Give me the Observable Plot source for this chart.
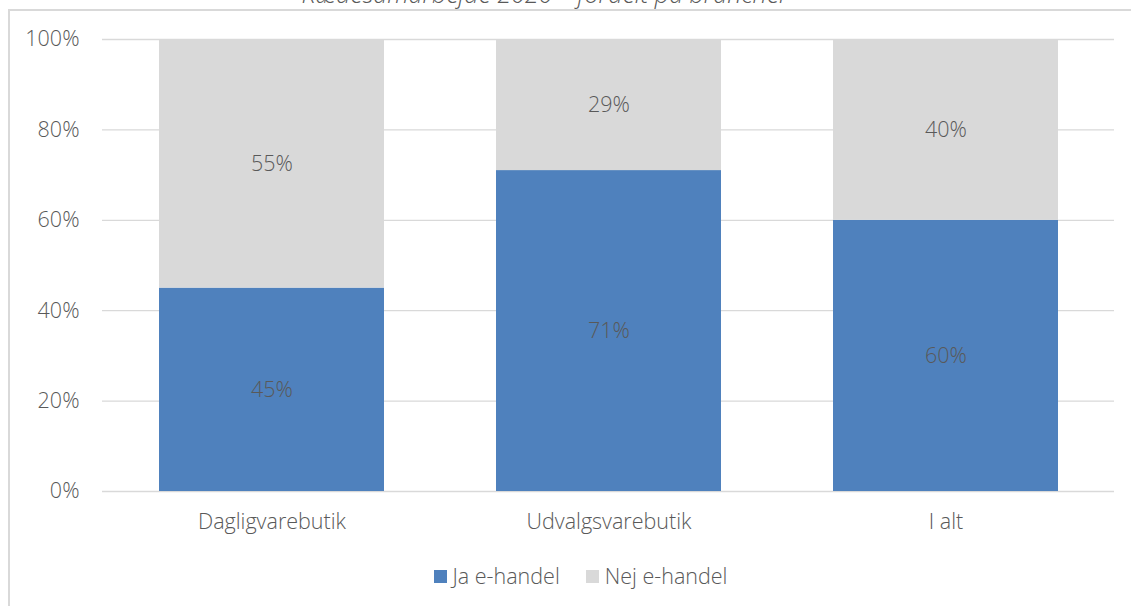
<!DOCTYPE html>
<html>
<head>
<meta charset="utf-8">
<script src="https://cdn.jsdelivr.net/npm/d3@7"></script>
<script src="https://cdn.jsdelivr.net/npm/@observablehq/plot@0.6"></script>
<style>
  html, body { margin: 0; padding: 0; background: #fff; }
  #wrap { position: relative; width: 1131px; height: 606px; overflow: hidden; font-family: "Open Sans", Lato, sans-serif; font-weight: 300; color: #595959; }
  #frame { position: absolute; left: 8px; top: 9px; width: 1200px; height: 700px; border-top: 2px solid #D9D9D9; border-left: 2px solid #D9D9D9; box-sizing: border-box; }
  #title { position: absolute; left: 0; width: 1090px; text-align: center; top: -22px; font-size: 25px; line-height: 30px; font-style: italic; font-weight: 300; color: #595959; white-space: nowrap; }
  #chart { position: absolute; left: 0; top: 0; }
  #legend { position: absolute; top: 561px; left: 0; width: 1131px; display: flex; justify-content: center; gap: 26px; font-size: 21.5px; line-height: 30px; padding-left: 30px; box-sizing: border-box; }
  .item { display: flex; align-items: center; gap: 6px; }
  .sw { width: 13px; height: 13px; display: inline-block; }
</style>
</head>
<body>
<div id="wrap">
  <div id="frame"></div>
  <div id="title">Kædesamarbejde 2020 – fordelt på brancher</div>
  <div id="chart"></div>
  <div id="legend"></div>
</div>
<script>
const categories = ["Dagligvarebutik", "Udvalgsvarebutik", "I alt"];
const seriesNames = ["Ja e-handel", "Nej e-handel"];
const jaValues = [45, 71, 60];
const nejValues = [55, 29, 40];
const yTicks = [0, 20, 40, 60, 80, 100];
const colors = ["#4F81BD", "#D9D9D9"];

const rows = [];
categories.forEach((c, i) => {
  rows.push({cat: c, series: seriesNames[0], value: jaValues[i]});
  rows.push({cat: c, series: seriesNames[1], value: nejValues[i]});
});

const font = "'Open Sans', Lato, sans-serif";
const fs = 21.5;
const plot = Plot.plot({
  width: 1131,
  height: 606,
  marginLeft: 102,
  marginRight: 17,
  marginTop: 39,
  marginBottom: 115,
  style: {fontFamily: font, fontSize: fs + "px", fontWeight: 300, color: "#595959", background: "transparent"},
  x: {domain: categories, paddingInner: 1/3, paddingOuter: 1/6, label: null, tickSize: 0, tickPadding: 22},
  y: {domain: [0, 100], ticks: yTicks, tickFormat: d => d + "%", label: null, tickSize: 0, tickPadding: 23},
  color: {domain: seriesNames, range: colors},
  marks: [
    Plot.ruleY(yTicks, {stroke: "#D9D9D9", strokeWidth: 1.3}),
    Plot.barY(rows, {x: "cat", y: "value", fill: "series", z: "series", order: seriesNames}),
    Plot.text(rows, Plot.stackY({x: "cat", y: "value", z: "series", order: seriesNames, text: d => d.value + "%", fill: "#595959", fontSize: fs})),
    Plot.axisX({tickSize: 0, tickPadding: 22, fontSize: fs, fill: "#595959"}),
    Plot.axisY({ticks: yTicks, tickFormat: d => d + "%", tickSize: 0, tickPadding: 23, fontSize: fs, fill: "#595959"})
  ]
});
document.getElementById("chart").appendChild(plot);

const legend = document.getElementById("legend");
seriesNames.forEach((s, i) => {
  const it = document.createElement("div");
  it.className = "item";
  const sw = document.createElement("span");
  sw.className = "sw";
  sw.style.background = colors[i];
  const t = document.createElement("span");
  t.textContent = s;
  it.appendChild(sw); it.appendChild(t);
  legend.appendChild(it);
});
</script>
</body>
</html>
